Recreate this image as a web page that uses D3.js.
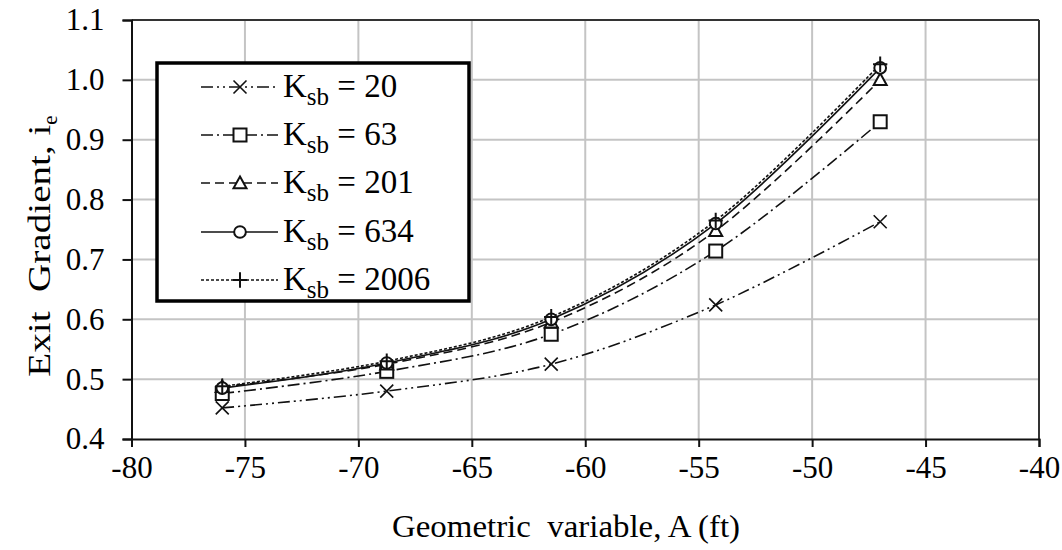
<!DOCTYPE html>
<html>
<head>
<meta charset="utf-8">
<script src="https://cdn.jsdelivr.net/npm/d3@7"></script>
<style>
  html, body { margin: 0; padding: 0; background: #fff; }
  svg { display: block; }
  text { font-family: "Liberation Serif", "Times New Roman", serif; fill: #000; }
</style>
</head>
<body>
<svg id="chart" width="1062" height="550"></svg>
<script>
// ---- data ----
const xValues = [-76, -68.75, -61.5, -54.25, -47];
const k20   = [0.452, 0.480, 0.525, 0.624, 0.763];
const k63   = [0.476, 0.513, 0.575, 0.714, 0.930];
const k201  = [0.487, 0.525, 0.595, 0.748, 1.000];
const k634  = [0.485, 0.527, 0.600, 0.760, 1.020];
const k2006 = [0.488, 0.530, 0.604, 0.765, 1.026];
const seriesNames = ["20", "63", "201", "634", "2006"];
const xTicks = [-80, -75, -70, -65, -60, -55, -50, -45, -40];
const yTicks = [0.4, 0.5, 0.6, 0.7, 0.8, 0.9, 1.0, 1.1];

const series = [
  { name: seriesNames[0], values: k20,   marker: "x",        dash: "12,4,2,4,2,4" },
  { name: seriesNames[1], values: k63,   marker: "square",   dash: "12,4,2,4" },
  { name: seriesNames[2], values: k201,  marker: "triangle", dash: "9,5" },
  { name: seriesNames[3], values: k634,  marker: "circle",   dash: null },
  { name: seriesNames[4], values: k2006, marker: "plus",     dash: "3,2" }
];

const svg = d3.select("#chart");
const pL = 131.5, pR = 1039, pT = 20, pB = 439;

const x = d3.scaleLinear().domain([-80, -40]).range([pL, pR]);
const y = d3.scaleLinear().domain([0.4, 1.1]).range([pB, pT]);

// grid
const grid = svg.append("g");
grid.selectAll(".gx").data(xTicks.slice(1, -1)).enter().append("line")
  .attr("x1", d => x(d)).attr("x2", d => x(d))
  .attr("y1", pT).attr("y2", pB)
  .attr("stroke", "#c4c4c4").attr("stroke-width", 2);
grid.selectAll(".gy").data(yTicks.slice(1, -1)).enter().append("line")
  .attr("y1", d => y(d)).attr("y2", d => y(d))
  .attr("x1", pL).attr("x2", pR)
  .attr("stroke", "#c4c4c4").attr("stroke-width", 2);

// plot border (top / right)
svg.append("line").attr("x1", pL).attr("x2", pR).attr("y1", pT).attr("y2", pT)
  .attr("stroke", "#333").attr("stroke-width", 2);
svg.append("line").attr("x1", pR).attr("x2", pR).attr("y1", pT).attr("y2", pB)
  .attr("stroke", "#333").attr("stroke-width", 2);

// axes
const xAxis = d3.axisBottom(x).tickValues(xTicks).tickSize(8).tickPadding(9)
  .tickFormat(d3.format("d"));
const gx = svg.append("g").attr("transform", `translate(0,${pB})`).call(xAxis);
gx.select(".domain").attr("stroke", "#111").attr("stroke-width", 2);
gx.selectAll(".tick line").attr("stroke", "#111").attr("stroke-width", 2);
gx.selectAll(".tick text").attr("font-size", 31)
  .text(d => d < 0 ? "-" + Math.abs(d) : d);

const yAxis = d3.axisLeft(y).tickValues(yTicks).tickSize(9).tickPadding(18)
  .tickFormat(d3.format(".1f"));
const gy = svg.append("g").attr("transform", `translate(${pL},0)`).call(yAxis);
gy.select(".domain").attr("stroke", "#111").attr("stroke-width", 2);
gy.selectAll(".tick line").attr("stroke", "#111").attr("stroke-width", 2);
gy.selectAll(".tick text").attr("font-size", 31);

// axis titles
svg.append("text")
  .attr("x", 566).attr("y", 537)
  .attr("text-anchor", "middle").attr("font-size", 31)
  .attr("textLength", 348).attr("lengthAdjust", "spacingAndGlyphs")
  .style("white-space", "pre")
  .text("Geometric  variable, A (ft)");

const yt = svg.append("text")
  .attr("transform", `translate(50,246) rotate(-90)`)
  .attr("text-anchor", "middle").attr("font-size", 31)
  .style("white-space", "pre");
yt.append("tspan").attr("textLength", 252).attr("lengthAdjust", "spacingAndGlyphs")
  .text("Exit  Gradient, i");
yt.append("tspan").attr("font-size", 21).attr("dy", 7).text("e");

// lines
const line = d3.line()
  .x((d, i) => x(xValues[i]))
  .y(d => y(d))
  .curve(d3.curveCardinal.tension(0));

const gl = svg.append("g");
series.forEach(s => {
  gl.append("path").datum(s.values)
    .attr("d", line)
    .attr("fill", "none").attr("stroke", "#111").attr("stroke-width", 1.6)
    .attr("stroke-dasharray", s.dash);
});

// markers
function drawMarker(g, type, cx, cy, sz) {
  const h = sz / 2;
  if (type === "x") {
    g.append("path").attr("d", `M${cx-h},${cy-h}L${cx+h},${cy+h}M${cx-h},${cy+h}L${cx+h},${cy-h}`)
      .attr("stroke", "#111").attr("stroke-width", 1.6).attr("fill", "none");
  } else if (type === "square") {
    g.append("rect").attr("x", cx - h).attr("y", cy - h).attr("width", sz).attr("height", sz)
      .attr("fill", "#fff").attr("stroke", "#111").attr("stroke-width", 2);
  } else if (type === "triangle") {
    g.append("path").attr("d", `M${cx},${cy-h}L${cx+h},${cy+h*0.8}L${cx-h},${cy+h*0.8}Z`)
      .attr("fill", "#fff").attr("stroke", "#111").attr("stroke-width", 2);
  } else if (type === "circle") {
    g.append("circle").attr("cx", cx).attr("cy", cy).attr("r", h * 0.9)
      .attr("fill", "#fff").attr("stroke", "#111").attr("stroke-width", 2);
  } else if (type === "plus") {
    g.append("path").attr("d", `M${cx-h*1.1},${cy}L${cx+h*1.1},${cy}M${cx},${cy-h*1.2}L${cx},${cy+h*1.2}`)
      .attr("stroke", "#111").attr("stroke-width", 2).attr("fill", "none");
  }
}

const gm = svg.append("g");
series.forEach(s => {
  s.values.forEach((v, i) => drawMarker(gm, s.marker, x(xValues[i]), y(v), 13));
});

// legend
const lg = svg.append("g");
lg.append("rect").attr("x", 157).attr("y", 63).attr("width", 312).attr("height", 238)
  .attr("fill", "#fff").attr("stroke", "#000").attr("stroke-width", 3.5);
const rowY = [87, 135, 183, 232, 280];
series.forEach((s, i) => {
  const ly = rowY[i];
  lg.append("line").attr("x1", 201).attr("x2", 278).attr("y1", ly).attr("y2", ly)
    .attr("stroke", "#111").attr("stroke-width", 1.6).attr("stroke-dasharray", s.dash);
  drawMarker(lg, s.marker, 240, ly, 13);
  const t = lg.append("text").attr("x", 283).attr("y", ly + 10).attr("font-size", 33)
    .style("white-space", "pre");
  t.append("tspan").text("K");
  t.append("tspan").attr("font-size", 25).attr("dy", 8).text("sb");
  t.append("tspan").attr("dy", -8).text(" = " + s.name);
});
</script>
</body>
</html>
